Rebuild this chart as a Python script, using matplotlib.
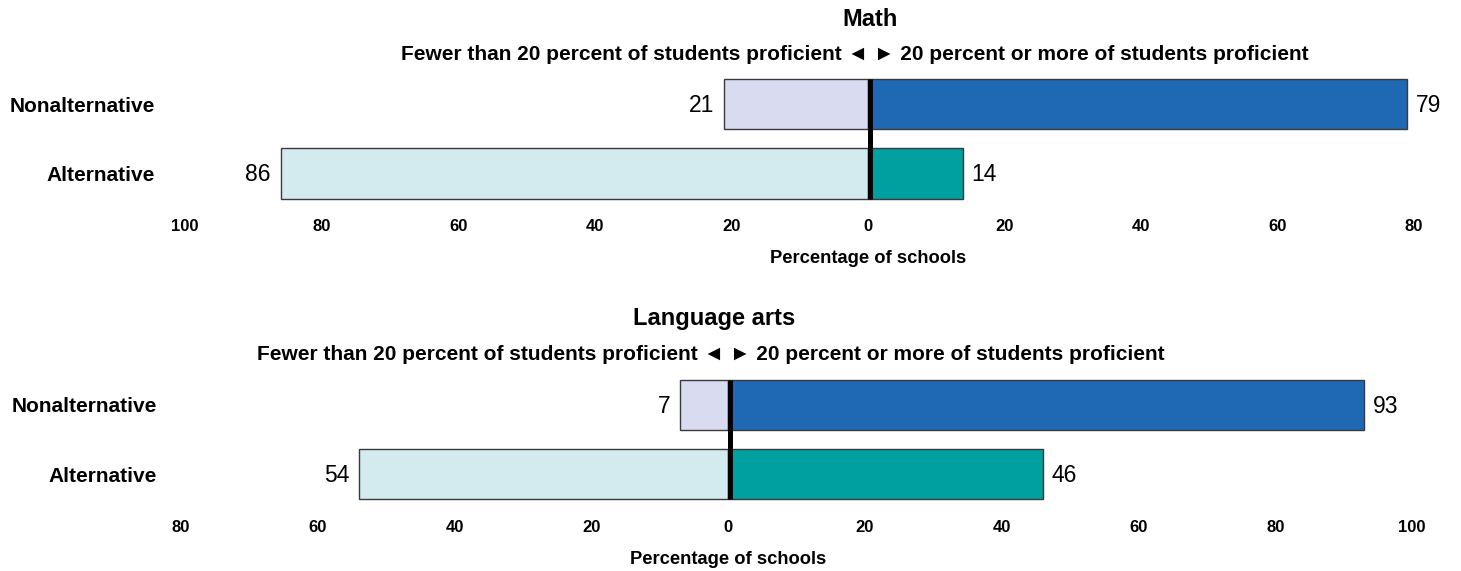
import numpy as np
import matplotlib
matplotlib.use("Agg")
import matplotlib.pyplot as plt
import matplotlib.transforms as mtransforms

plt.rcParams['font.family'] = ['Liberation Sans', 'DejaVu Sans']

# data
groups = ["Nonalternative", "Alternative"]
math_below = [21, 86]
math_above = [79, 14]
lang_below = [7, 54]
lang_above = [93, 46]

subtitle = "Fewer than 20 percent of students proficient \u25c4 \u25ba 20 percent or more of students proficient"
xlabel = "Percentage of schools"

col_below = ["#d9dcf0", "#d3ebee"]
col_above = ["#1f69b4", "#00a0a0"]
edge = "#3a3a3a"

W, H = 1461, 571
fig = plt.figure(figsize=(W / 100, H / 100), dpi=100)


def draw(ax, below, above, xmin, xmax, ticks, ypad):
    y = np.arange(len(groups))
    ax.barh(y, [-v for v in below], height=0.72, color=col_below,
            edgecolor=edge, linewidth=1)
    ax.barh(y, above, height=0.72, color=col_above,
            edgecolor=edge, linewidth=1)
    # thick zero line, drawn just right of zero like the original
    tr = mtransforms.offset_copy(ax.transData, fig=fig, x=1.8, y=0, units='dots')
    ax.plot([0, 0], [-0.36, 1.36], color="black", lw=3.6, transform=tr,
            solid_capstyle='butt', zorder=5)
    for i in range(len(groups)):
        ax.annotate(str(below[i]), (-below[i], y[i]), xytext=(-7, -1),
                    textcoords="offset points", ha="right", va="center",
                    fontsize=16.5)
        ax.annotate(str(above[i]), (above[i], y[i]), xytext=(6, -1),
                    textcoords="offset points", ha="left", va="center",
                    fontsize=16.5)
    ax.set_xlim(xmin, xmax)
    ax.set_ylim(1.5, -0.5)
    ax.set_xticks(ticks)
    ax.set_xticklabels([str(abs(t)) for t in ticks], fontweight="bold", fontsize=12)
    ax.set_yticks(y)
    ax.set_yticklabels(groups, fontweight="bold", fontsize=15)
    ax.tick_params(axis="x", length=0, pad=8)
    ax.tick_params(axis="y", length=0, pad=ypad)
    for s in ax.spines.values():
        s.set_visible(False)
    zx = (0 - xmin) / (xmax - xmin)
    ax.text(zx, -0.365, xlabel, transform=ax.transAxes, ha="center",
            va="center", fontsize=13.2, fontweight="bold")


ax1 = fig.add_axes([185 / W, 1 - 208.25 / H, (1414 - 185) / W, 139 / H])
draw(ax1, math_below, math_above, -100, 80, np.arange(-100, 81, 20), 21.5)

ax2 = fig.add_axes([181 / W, 1 - 509 / H, (1412 - 181) / W, 139 / H])
draw(ax2, lang_below, lang_above, -80, 100, np.arange(-80, 101, 20), 17.5)

fig.text(870 / W, 1 - 20 / H, "Math", ha="center", va="center",
         fontsize=17, fontweight="bold")
fig.text(855 / W, 1 - 55 / H, subtitle, ha="center", va="center",
         fontsize=15, fontweight="bold")
fig.text(714 / W, 1 - 318 / H, "Language arts", ha="center", va="center",
         fontsize=17, fontweight="bold")
fig.text(711 / W, 1 - 355 / H, subtitle, ha="center", va="center",
         fontsize=15, fontweight="bold")

fig.savefig("out.png", dpi=100, facecolor="white")
